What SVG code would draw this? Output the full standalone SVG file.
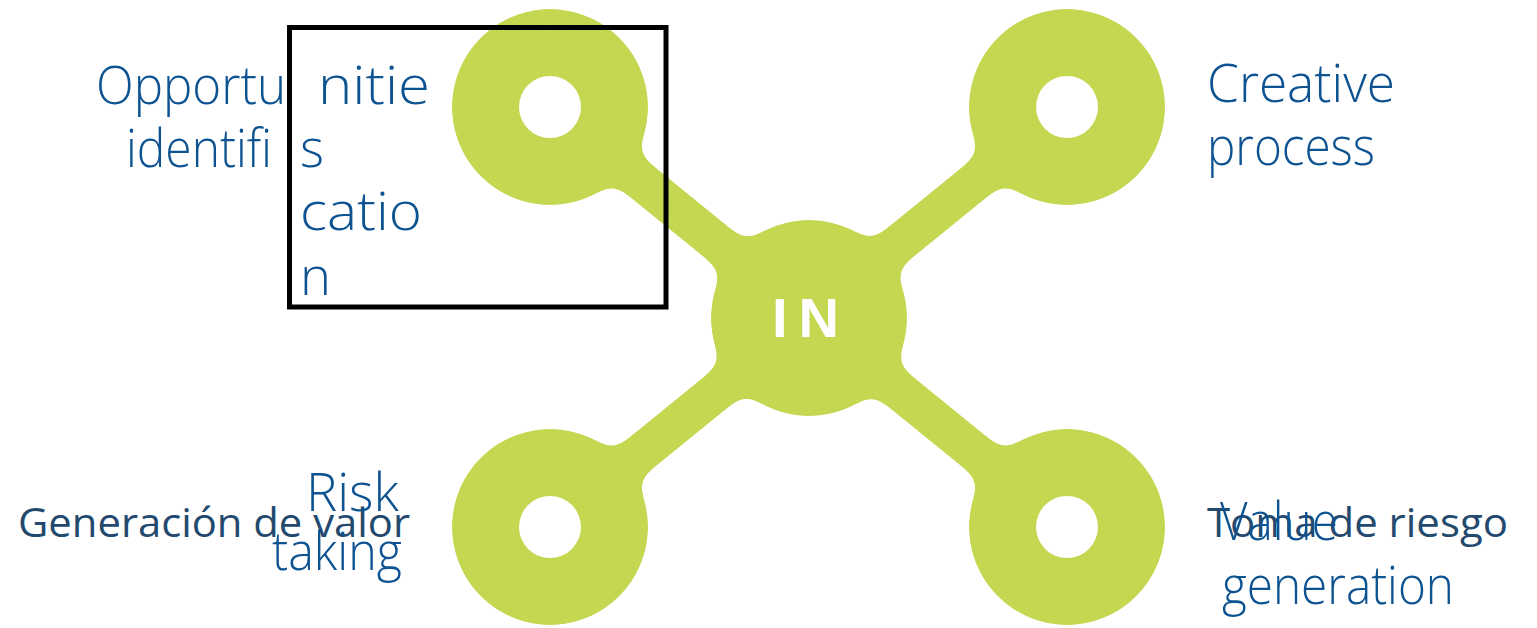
<svg xmlns="http://www.w3.org/2000/svg" width="1537" height="628" viewBox="0 0 1537 628">
  <defs>
    <filter id="goo" x="-10%" y="-10%" width="120%" height="120%" color-interpolation-filters="sRGB">
      <feGaussianBlur in="SourceGraphic" stdDeviation="10"/>
      <feColorMatrix type="matrix" values="1 0 0 0 0  0 1 0 0 0  0 0 1 0 0  0 0 0 30 -14"/>
    </filter>
    <style>
      .green { fill: #c5d751; }
      .arm { stroke: #c5d751; stroke-width: 38; stroke-linecap: round; fill: none; }
      .hole { fill: #ffffff; }
      .lbl { font-family: "Open Sans", "Liberation Sans", Arial, sans-serif; font-size: 54px; font-weight: 300; fill: #0d5291; }
      .bg { font-family: "Open Sans", "Liberation Sans", sans-serif; font-size: 41px; font-weight: 500; fill: #234a6e; }
      .core { font-family: "Liberation Sans", Arial, sans-serif; font-size: 56px; font-weight: 700; fill: #ffffff; letter-spacing: 11px; }
    </style>
  </defs>
  <rect x="0" y="0" width="1537" height="628" fill="#ffffff"/>

  <!-- background printed labels -->
  <g id="bg-labels">
    <text class="bg" x="18" y="537" textLength="392" lengthAdjust="spacingAndGlyphs">Generación de valor</text>
    <text class="bg" x="1207" y="537" textLength="301" lengthAdjust="spacingAndGlyphs">Toma de riesgo</text>
  </g>

  <!-- green body -->
  <g id="shape" filter="url(#goo)">
    <g id="connectors">
      <line class="arm" x1="550" y1="107" x2="1067" y2="527"/>
      <line class="arm" x1="1067" y1="107" x2="550" y2="527"/>
    </g>
    <circle class="green" cx="550" cy="107" r="98"/>
    <circle class="green" cx="1067" cy="107" r="98"/>
    <circle class="green" cx="550" cy="527" r="98"/>
    <circle class="green" cx="1067" cy="527" r="98"/>
    <circle class="green" cx="809" cy="318" r="98"/>
  </g>

  <g id="node-opportunities">
    <circle class="hole" cx="550" cy="107" r="31"/>
    <text class="lbl" x="96" y="104" textLength="190" lengthAdjust="spacingAndGlyphs">Opportu</text>
    <text class="lbl" x="318" y="104" textLength="112" lengthAdjust="spacingAndGlyphs">nitie</text>
    <text class="lbl" x="126" y="167" textLength="146" lengthAdjust="spacingAndGlyphs">identifi</text>
    <text class="lbl" x="300" y="167" textLength="24" lengthAdjust="spacingAndGlyphs">s</text>
    <text class="lbl" x="300" y="230" textLength="122" lengthAdjust="spacingAndGlyphs">catio</text>
    <text class="lbl" x="300" y="295" textLength="31" lengthAdjust="spacingAndGlyphs">n</text>
  </g>

  <g id="node-creative">
    <circle class="hole" cx="1067" cy="107" r="31"/>
    <text class="lbl" x="1207" y="102" textLength="188" lengthAdjust="spacingAndGlyphs">Creative</text>
    <text class="lbl" x="1207" y="165" textLength="168" lengthAdjust="spacingAndGlyphs">process</text>
  </g>

  <g id="node-risk">
    <circle class="hole" cx="550" cy="527" r="31"/>
    <text class="lbl" x="306" y="511" textLength="93" lengthAdjust="spacingAndGlyphs">Risk</text>
    <text class="lbl" x="272" y="570" textLength="130" lengthAdjust="spacingAndGlyphs">taking</text>
  </g>

  <g id="node-value">
    <circle class="hole" cx="1067" cy="527" r="31"/>
    <text class="lbl" x="1220" y="540" textLength="118" lengthAdjust="spacingAndGlyphs">Value</text>
    <text class="lbl" x="1222" y="604" textLength="232" lengthAdjust="spacingAndGlyphs">generation</text>
  </g>

  <g id="node-center">
    <text class="core" x="772" y="337">IN</text>
  </g>

  <rect id="frame" x="289.5" y="27.5" width="376.5" height="279.5" fill="none" stroke="#000000" stroke-width="5"/>
</svg>
